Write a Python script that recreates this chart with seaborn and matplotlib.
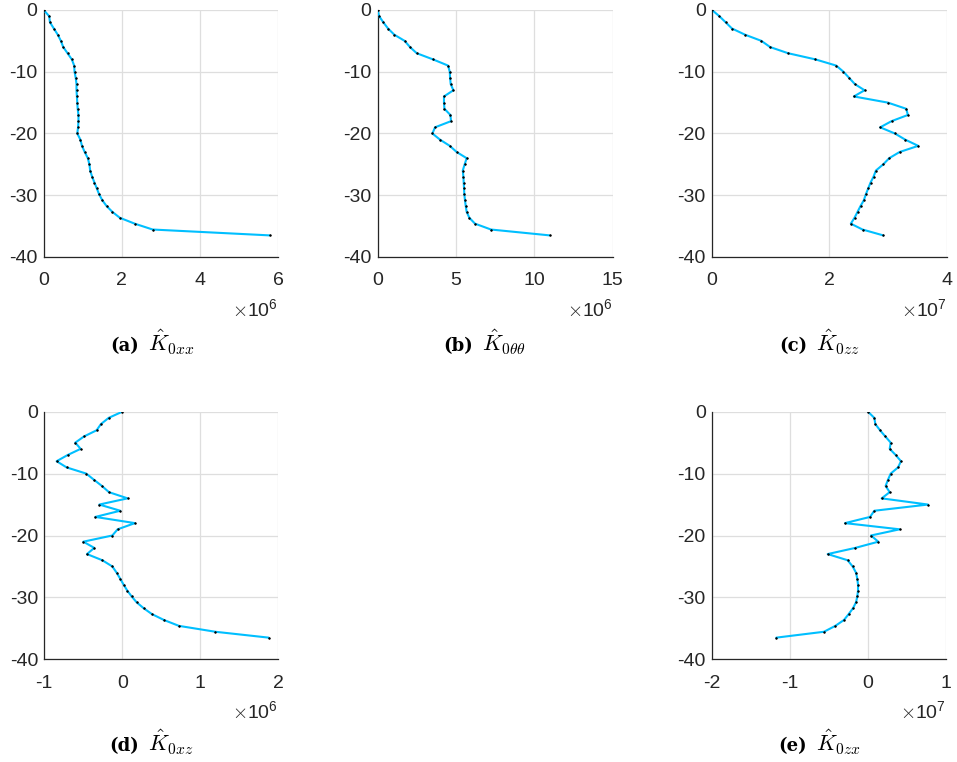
import matplotlib
matplotlib.use("Agg")
import matplotlib.pyplot as plt
from matplotlib.ticker import FuncFormatter
import seaborn as sns

# Depth of each sample (m)
depth = [0, -1, -2, -3, -4, -5, -6, -7, -8, -9, -10, -11, -12, -13, -14,
         -15, -16, -17, -18, -19, -20, -21, -22, -23, -24, -25, -26, -27,
         -27.95, -28.9, -29.85, -30.8, -31.75, -32.7, -33.65, -34.6,
         -35.55, -36.5]

# Stiffness components along depth
k0xx = [0, 0.14, 0.16, 0.26, 0.36, 0.44, 0.50, 0.61, 0.72, 0.78, 0.79,
        0.82, 0.84, 0.84, 0.85, 0.86, 0.87, 0.89, 0.89, 0.88, 0.86, 0.94,
        0.98, 1.05, 1.13, 1.17, 1.19, 1.24, 1.30, 1.36, 1.42, 1.50, 1.61,
        1.76, 1.95, 2.33, 2.79, 5.79]
k0tt = [0, 0.09, 0.36, 0.66, 1.06, 1.72, 2.06, 2.49, 3.53, 4.49, 4.60,
        4.62, 4.66, 4.83, 4.23, 4.23, 4.26, 4.64, 4.68, 3.66, 3.49, 3.98,
        4.60, 5.04, 5.68, 5.55, 5.43, 5.47, 5.49, 5.51, 5.53, 5.57, 5.62,
        5.68, 5.85, 6.21, 7.23, 10.98]
k0zz = [0, 0.125, 0.233, 0.341, 0.563, 0.842, 0.99, 1.297, 1.763, 2.116,
        2.241, 2.338, 2.435, 2.60, 2.418, 2.998, 3.31, 3.339, 3.06, 2.867,
        3.117, 3.294, 3.515, 3.197, 3.02, 2.918, 2.793, 2.753, 2.702,
        2.662, 2.622, 2.588, 2.531, 2.48, 2.429, 2.366, 2.565, 2.918]
k0xz = [0, -0.175, -0.274, -0.329, -0.491, -0.603, -0.534, -0.701, -0.842,
        -0.714, -0.462, -0.363, -0.261, -0.171, 0.068, -0.295, -0.026,
        -0.346, 0.162, -0.06, -0.128, -0.5, -0.359, -0.453, -0.256, -0.128,
        -0.073, -0.026, 0.017, 0.064, 0.12, 0.184, 0.274, 0.38, 0.534,
        0.726, 1.192, 1.876]
k0zx = [0, 0.081, 0.094, 0.154, 0.222, 0.291, 0.278, 0.355, 0.423, 0.385,
        0.291, 0.256, 0.226, 0.278, 0.175, 0.769, 0.081, 0.026, -0.295,
        0.406, 0.038, 0.132, -0.162, -0.517, -0.261, -0.197, -0.154,
        -0.137, -0.128, -0.128, -0.137, -0.154, -0.192, -0.248, -0.308,
        -0.419, -0.564, -1.175]

panel_tags = ["(a)", "(b)", "(c)", "(d)", "(e)"]
panel_symbols = [r"$\hat{K}_{0xx}$", r"$\hat{K}_{0\theta\theta}$",
                 r"$\hat{K}_{0zz}$", r"$\hat{K}_{0xz}$", r"$\hat{K}_{0zx}$"]

sns.set_style("white")
plt.rcParams["font.family"] = ["Liberation Sans", "DejaVu Sans"]
plt.rcParams["mathtext.fontset"] = "cm"
plt.rcParams["axes.unicode_minus"] = False

W, H = 957, 762
fig = plt.figure(figsize=(W / 100, H / 100), dpi=100)

# (values, exponent, xlim, xticks, [left, top, right, bottom] in pixels)
panels = [
    (k0xx, 6, (0, 6), [0, 2, 4, 6], (43.7, 10, 278, 257)),
    (k0tt, 6, (0, 15), [0, 5, 10, 15], (377.7, 10, 612.7, 257)),
    (k0zz, 7, (0, 4), [0, 2, 4], (712, 10, 946.7, 257)),
    (k0xz, 6, (-1, 2), [-1, 0, 1, 2], (44.3, 411.7, 278.3, 659.3)),
    (k0zx, 7, (-2, 1), [-2, -1, 0, 1], (712, 411.7, 946, 659.3)),
]

line_color = "#00BFFF"
dark = "#262626"


def scaled_formatter(scale):
    return FuncFormatter(lambda v, pos: f"{v / scale:g}")


for (vals, p, xlim, xticks, box), tag, sym in zip(panels, panel_tags,
                                                  panel_symbols):
    l, t, r, b = box
    ax = fig.add_axes([l / W, 1 - b / H, (r - l) / W, (b - t) / H])
    scale = 10 ** p
    xs = [v * scale for v in vals]
    sns.lineplot(x=xs, y=depth, sort=False, estimator=None, ax=ax,
                 color=line_color, linewidth=1.5, marker="o", markersize=1.3,
                 markeredgewidth=0.4, markerfacecolor="black",
                 markeredgecolor="black", zorder=3)
    ax.set_xlim(xlim[0] * scale, xlim[1] * scale)
    ax.set_xticks([x * scale for x in xticks])
    ax.xaxis.set_major_formatter(scaled_formatter(scale))
    ax.set_ylim(-40, 0)
    ax.set_yticks([0, -10, -20, -30, -40])
    ax.set_xlabel("")
    ax.set_ylabel("")
    ax.grid(True, color="#dedede", linewidth=0.9)
    ax.set_axisbelow(True)
    for s in ("top", "right"):
        ax.spines[s].set_visible(False)
    for s in ("left", "bottom"):
        ax.spines[s].set_color(dark)
        ax.spines[s].set_linewidth(0.9)
    ax.tick_params(axis="both", direction="in", length=3, width=0.9,
                   colors=dark, labelsize=14)
    ax.tick_params(axis="x", pad=11)
    ax.tick_params(axis="y", pad=4.5)

    # exponent of the x scale, below the right end of the axis
    ax.annotate(r"$\times\mathdefault{10^{%d}}$" % p, xy=(1, 0),
                xycoords="axes fraction", xytext=(0, -59),
                textcoords="offset pixels", ha="right", va="baseline",
                fontsize=14, color=dark)

    # sub-figure caption: bold tag followed by the component symbol
    base = 351 if b < 400 else 751
    cx = (l + r) / 2
    fig.text((cx - 22) / W, 1 - base / H, tag, ha="right", va="baseline",
             fontsize=13, color="black", family="DejaVu Serif",
             fontweight="bold")
    fig.text((cx - 13) / W, 1 - base / H, sym, ha="left", va="baseline",
             fontsize=16, color="black")

fig.savefig("out.png", dpi=100)
